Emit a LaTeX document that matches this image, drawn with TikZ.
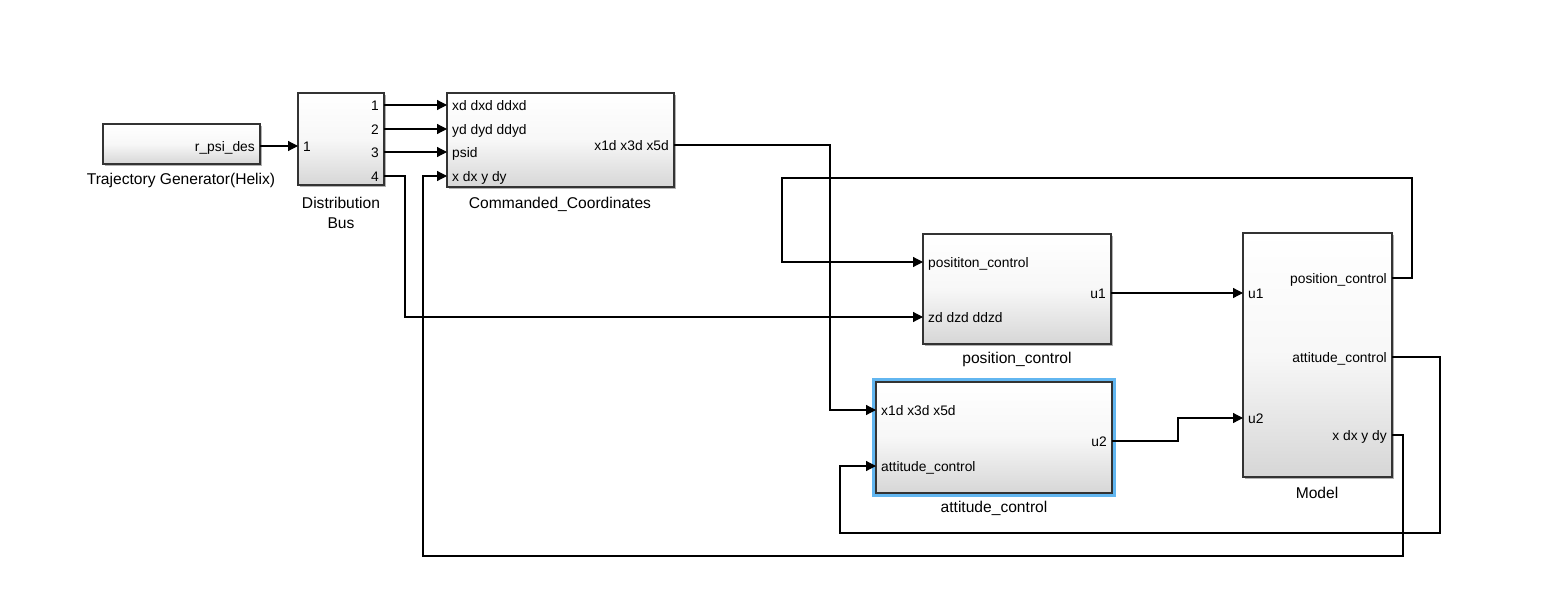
\documentclass[tikz,border=0pt]{standalone}
\usepackage{fontspec}
\setmainfont{Liberation Sans}
\usetikzlibrary{arrows.meta,shadows}
\newcommand\portfont{\fontsize{13.8}{16}\selectfont}
\newcommand\namefont{\fontsize{15.6}{18}\selectfont}
\definecolor{hilite}{RGB}{98,182,240}
\begin{document}
\begin{tikzpicture}[x=1pt,y=-1pt,
  block/.style={draw=black!80, line width=1.2pt, anchor=north west,
    inner sep=0pt, outer sep=0pt,
    top color=white, bottom color=black!16, middle color=black!3,
    drop shadow={shadow xshift=1.8pt, shadow yshift=-1.8pt, opacity=0.3, fill=black}},
  inlab/.style={anchor=west, font=\portfont, inner sep=0pt,
    text height=10pt, text depth=0pt, xshift=5pt},
  outlab/.style={anchor=east, font=\portfont, inner sep=0pt,
    text height=10pt, text depth=0pt, xshift=-5pt},
  namelab/.style={anchor=base, font=\namefont, inner sep=0pt, align=center},
  wire/.style={line width=1.2pt},
  sig/.style={wire, -{Triangle[length=10pt,width=10pt]}},
]
\fill[white] (0,0) rectangle (1549,605);
\useasboundingbox (0,0) rectangle (1549,605);

% ---- blocks ----
\node[block, minimum width=157pt, minimum height=40pt]  (tg)    at (103,124) {};
\node[block, minimum width=86pt,  minimum height=92pt]  (bus)   at (298,93)  {};
\node[block, minimum width=227pt, minimum height=94pt]  (cc)    at (447,93)  {};
\node[block, minimum width=188pt, minimum height=110pt] (pc)    at (923,234) {};
\node[block, minimum width=236pt, minimum height=111pt] (ac)    at (876,382) {};
\node[block, minimum width=149pt, minimum height=244pt] (model) at (1243,233) {};

% selection frame of the attitude controller
\draw[hilite, line width=3.6pt]
  ([shift={(-2.6pt,2.6pt)}]ac.north west) rectangle ([shift={(2.6pt,-2.6pt)}]ac.south east);

% ---- block names ----
\node[namelab] (tg-name)    at (181,184)  {Trajectory Generator(Helix)};
\node[namelab] (bus-name)   at (341,208)  {Distribution};
\node[namelab] (bus-name2)  at (341,228)  {Bus};
\node[namelab] (cc-name)    at (560,208)  {Commanded\_Coordinates};
\node[namelab] (pc-name)    at (1017,363) {position\_control};
\node[namelab] (ac-name)    at (994,512)  {attitude\_control};
\node[namelab] (model-name) at (1317,498) {Model};

% ---- ports ----
\coordinate (tg-out)   at (260,146);
\coordinate (bus-in)   at (298,146);
\coordinate (bus-o1)   at (384,105);
\coordinate (bus-o2)   at (384,129);
\coordinate (bus-o3)   at (384,152);
\coordinate (bus-o4)   at (384,176);
\coordinate (cc-i1)    at (447,105);
\coordinate (cc-i2)    at (447,129);
\coordinate (cc-i3)    at (447,152);
\coordinate (cc-i4)    at (447,176);
\coordinate (cc-out)   at (674,145);
\coordinate (pc-i1)    at (923,262);
\coordinate (pc-i2)    at (923,317);
\coordinate (pc-out)   at (1111,293);
\coordinate (ac-i1)    at (876,410);
\coordinate (ac-i2)    at (876,466);
\coordinate (ac-out)   at (1112,441);
\coordinate (model-i1) at (1243,293);
\coordinate (model-i2) at (1243,418);
\coordinate (model-o1) at (1392,278);
\coordinate (model-o2) at (1392,357);
\coordinate (model-o3) at (1392,435);

% ---- port labels ----
\node[outlab] (l-tg-out) at (tg-out) {r\_psi\_des};
\node[inlab]  (l-bus-in) at (bus-in) {1};
\node[outlab] (l-bus-o1) at (bus-o1) {1};
\node[outlab] (l-bus-o2) at (bus-o2) {2};
\node[outlab] (l-bus-o3) at (bus-o3) {3};
\node[outlab] (l-bus-o4) at (bus-o4) {4};
\node[inlab]  (l-cc-i1)  at (cc-i1)  {xd dxd ddxd};
\node[inlab]  (l-cc-i2)  at (cc-i2)  {yd dyd ddyd};
\node[inlab]  (l-cc-i3)  at (cc-i3)  {psid};
\node[inlab]  (l-cc-i4)  at (cc-i4)  {x dx y dy};
\node[outlab] (l-cc-out) at (cc-out) {x1d x3d x5d};
\node[inlab]  (l-pc-i1)  at (pc-i1)  {posititon\_control};
\node[inlab]  (l-pc-i2)  at (pc-i2)  {zd dzd ddzd};
\node[outlab] (l-pc-out) at (pc-out) {u1};
\node[inlab]  (l-ac-i1)  at (ac-i1)  {x1d x3d x5d};
\node[inlab]  (l-ac-i2)  at (ac-i2)  {attitude\_control};
\node[outlab] (l-ac-out) at (ac-out) {u2};
\node[inlab]  (l-m-i1)   at (model-i1) {u1};
\node[inlab]  (l-m-i2)   at (model-i2) {u2};
\node[outlab] (l-m-o1)   at (model-o1) {position\_control};
\node[outlab] (l-m-o2)   at (model-o2) {attitude\_control};
\node[outlab] (l-m-o3)   at (model-o3) {x dx y dy};

% ---- signal lines ----
\draw[sig] (tg-out) -- (bus-in);
\draw[sig] (bus-o1) -- (cc-i1);
\draw[sig] (bus-o2) -- (cc-i2);
\draw[sig] (bus-o3) -- (cc-i3);
\draw[sig] (bus-o4) -- ++(21,0) |- (pc-i2);
\draw[sig] (cc-out) -| ([xshift=-46pt]ac-i1) -- (ac-i1);
\draw[sig] (pc-out) -- (model-i1);
\draw[sig] (ac-out) -- ++(66,0) |- (model-i2);
% feedback paths from the plant model
\draw[sig] (model-o1) -- ++(20,0) -- ++(0,-100) -| ([xshift=-141pt]pc-i1) -- (pc-i1);
\draw[sig] (model-o2) -- ++(48,0) -- ++(0,176) -| ([xshift=-36pt]ac-i2) -- (ac-i2);
\draw[sig] (model-o3) -- ++(11,0) -- ++(0,121) -| ([xshift=-24pt]cc-i4) -- (cc-i4);
\end{tikzpicture}
\end{document}
